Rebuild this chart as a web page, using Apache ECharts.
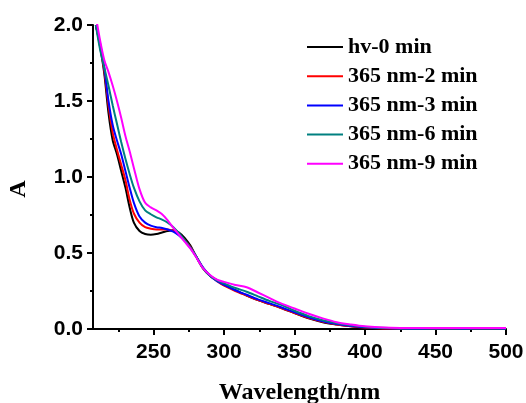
<!DOCTYPE html>
<html>
<head>
<meta charset="utf-8">
<script src="https://cdn.jsdelivr.net/npm/echarts@6/dist/echarts.min.js"></script>
<style>
html,body{margin:0;padding:0;background:#fff;}
#chart{width:526px;height:403px;}
</style>
</head>
<body>
<div id="chart"></div>
<script>
// Wavelength (nm)
var wavelengths = [209,212,215,218,221,224,227,230,233,236,240,244,248,252,256,260,264,268,272,276,280,285,290,295,300,308,316,324,332,340,350,360,370,380,390,400,410,425,440,455,470,485,500];
// Absorbance series
var hv0 = [2.00,1.86,1.68,1.42,1.24,1.15,1.04,0.93,0.80,0.70,0.645,0.625,0.62,0.625,0.635,0.645,0.65,0.635,0.60,0.55,0.48,0.40,0.35,0.32,0.29,0.255,0.22,0.19,0.165,0.14,0.105,0.07,0.045,0.03,0.018,0.01,0.005,0.0,0.0,0.0,0.002,0.0,0.0];
var nm2 = [2.00,1.87,1.70,1.47,1.29,1.18,1.08,0.98,0.85,0.76,0.70,0.67,0.66,0.655,0.655,0.655,0.645,0.62,0.585,0.54,0.48,0.40,0.35,0.315,0.285,0.25,0.22,0.19,0.165,0.14,0.105,0.072,0.048,0.03,0.018,0.01,0.005,0.002,0.001,0.002,0.001,0.002,0.001];
var nm3 = [2.00,1.88,1.72,1.50,1.34,1.24,1.15,1.04,0.93,0.83,0.74,0.70,0.68,0.67,0.665,0.655,0.64,0.615,0.58,0.535,0.48,0.405,0.35,0.315,0.29,0.255,0.225,0.195,0.17,0.145,0.11,0.077,0.05,0.032,0.02,0.012,0.006,0.003,0.002,0.003,0.002,0.003,0.002];
var nm6 = [2.00,1.84,1.72,1.60,1.47,1.35,1.23,1.12,1.02,0.93,0.84,0.78,0.755,0.735,0.72,0.70,0.67,0.63,0.585,0.535,0.48,0.40,0.35,0.32,0.30,0.27,0.245,0.215,0.185,0.16,0.12,0.085,0.058,0.038,0.024,0.014,0.008,0.004,0.003,0.004,0.003,0.004,0.003];
var nm9 = [2.06,1.90,1.77,1.69,1.60,1.50,1.39,1.27,1.17,1.06,0.92,0.83,0.80,0.78,0.755,0.715,0.665,0.62,0.575,0.53,0.475,0.40,0.355,0.325,0.31,0.29,0.275,0.24,0.205,0.17,0.135,0.10,0.07,0.045,0.03,0.018,0.012,0.007,0.006,0.007,0.006,0.007,0.006];

var seriesNames = ['hv-0 min','365 nm-2 min','365 nm-3 min','365 nm-6 min','365 nm-9 min'];
var seriesValues = [hv0, nm2, nm3, nm6, nm9];
var seriesColors = ['#000000','#ff0000','#0000ff','#008080','#ff00ff'];

var xMajorTicks = [250,300,350,400,450,500];
var xMinorTicks = [225,275,325,375,425,475];

var sans = '"Liberation Sans", Arial, sans-serif';
var serif = '"Liberation Serif", "Times New Roman", serif';

function pairs(vals){
  return wavelengths.map(function(w,i){ return [w, vals[i]]; });
}

var series = seriesNames.map(function(n,i){
  return {
    name: n, type: 'line', xAxisIndex: 0, yAxisIndex: 0,
    data: pairs(seriesValues[i]), smooth: 0.3, showSymbol: false, symbol: 'none',
    lineStyle: {color: seriesColors[i], width: 2}, itemStyle: {color: seriesColors[i]},
    clip: true, z: 2 + i
  };
});

var gridBox = {left: 93, right: 20, top: 25, bottom: 74, containLabel: false, outerBoundsMode: 'none'};

var chart = echarts.init(document.getElementById('chart'), null, {renderer: 'canvas'});
chart.setOption({
  backgroundColor: '#ffffff',
  animation: false,
  grid: [gridBox, Object.assign({}, gridBox)],
  legend: {
    orient: 'vertical', left: 302, top: 31,
    icon: 'rect', itemWidth: 36, itemHeight: 2, itemGap: 7.2,
    data: seriesNames,
    textStyle: {fontFamily: serif, fontWeight: 'bold', fontSize: 22, color: '#000', lineHeight: 22}
  },
  xAxis: [{
    gridIndex: 0, type: 'value', min: 207, max: 500,
    name: 'Wavelength/nm', nameLocation: 'middle', nameGap: 52,
    nameTextStyle: {fontFamily: serif, fontWeight: 'bold', fontSize: 24, color: '#000'},
    axisLine: {show: true, lineStyle: {color: '#000', width: 2}},
    axisTick: {show: true, length: 6, customValues: xMajorTicks, lineStyle: {color: '#000', width: 2}},
    axisLabel: {customValues: xMajorTicks, margin: 13, fontFamily: sans, fontWeight: 'bold', fontSize: 21, color: '#000'},
    splitLine: {show: false}
  },{
    gridIndex: 1, type: 'value', min: 207, max: 500, position: 'bottom',
    axisLine: {show: false},
    axisTick: {show: true, length: 3, customValues: xMinorTicks, lineStyle: {color: '#000', width: 2}},
    axisLabel: {show: false, customValues: xMinorTicks},
    splitLine: {show: false}
  }],
  yAxis: [{
    gridIndex: 0, type: 'value', min: 0, max: 2, interval: 0.5,
    name: 'A', nameLocation: 'middle', nameGap: 62, nameRotate: 90,
    nameTextStyle: {fontFamily: serif, fontWeight: 'bold', fontSize: 24, color: '#000', padding: [0,24,0,0]},
    axisLine: {show: true, lineStyle: {color: '#000', width: 2}},
    axisTick: {show: true, length: 6, lineStyle: {color: '#000', width: 2}},
    minorTick: {show: true, splitNumber: 2, length: 3, lineStyle: {color: '#000', width: 2}},
    axisLabel: {margin: 10, fontFamily: sans, fontWeight: 'bold', fontSize: 21, color: '#000',
      formatter: function(v){ return v.toFixed(1); }},
    splitLine: {show: false}, minorSplitLine: {show: false}
  },{
    gridIndex: 1, type: 'value', min: 0, max: 2, show: false
  }],
  series: series
});
</script>
</body>
</html>
